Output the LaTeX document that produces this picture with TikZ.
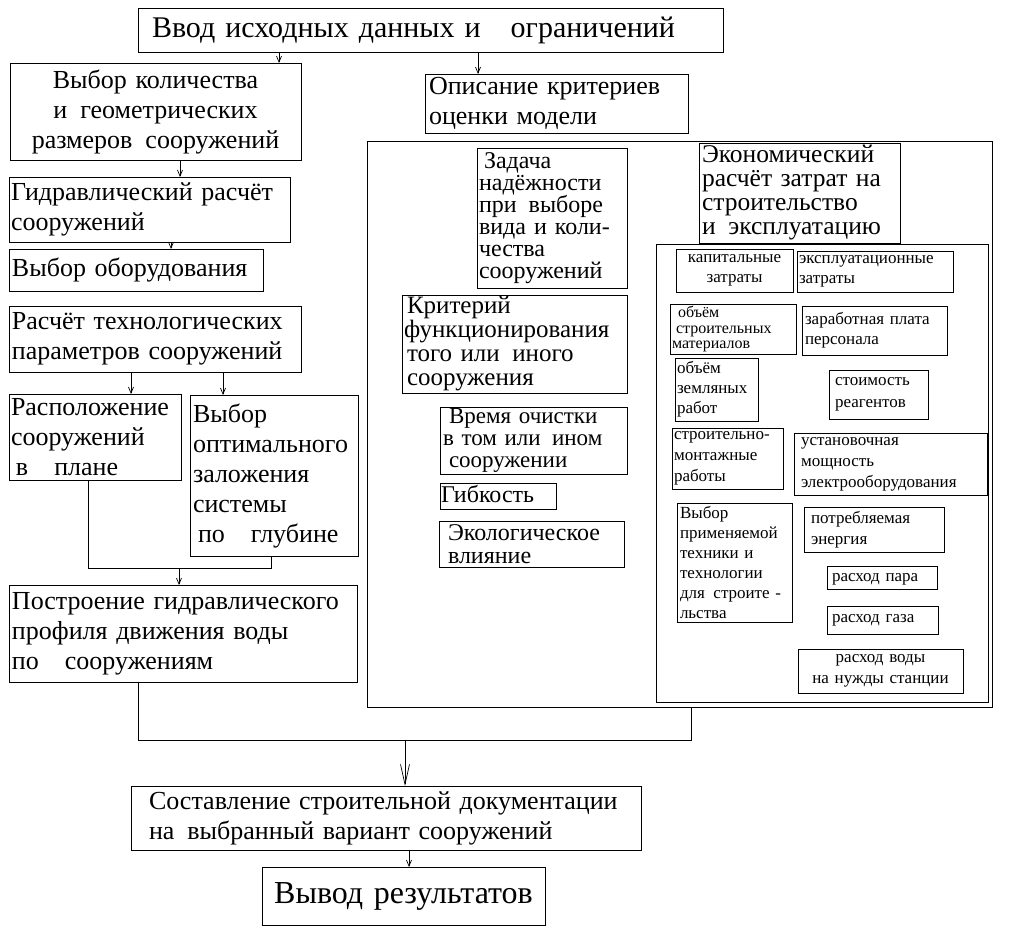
\documentclass[tikz,border=0pt]{standalone}
\usepackage{fontspec}
\setmainfont{Liberation Serif}
\usetikzlibrary{arrows.meta}
\tikzset{
  bx/.style={draw, line width=0.9pt, anchor=north west, inner ysep=0pt, outer sep=0pt, align=left},
  ln/.style={line width=0.8pt},
  arr/.style={line width=0.8pt, -{Straight Barb[length=6pt,width=5pt,line width=0.7pt]}},
  arrbig/.style={line width=0.8pt, -{Straight Barb[length=20pt,width=9pt,line width=0.7pt]}},
  fT/.style={font=\fontsize{30}{34}\selectfont},
  fL/.style={font=\fontsize{26}{30}\selectfont},
  fS/.style={font=\fontsize{17}{20}\selectfont}
}
\newcommand\mybox[8]{%
  \pgfmathsetmacro\myBW{#4-#2}%
  \pgfmathsetmacro\myBH{#5-#3}%
  \pgfmathsetmacro\myTW{#4-#2-2*#6}%
  \node[bx, minimum width=\myBW pt, minimum height=\myBH pt, inner xsep=#6pt, text width=\myTW pt, #7] (#1) at (#2,#3) {#8};}
\begin{document}
\begin{tikzpicture}[x=1pt, y=-1pt]
\useasboundingbox (0,0) rectangle (1021,945);
% left column
\mybox{top}{138}{8}{723}{52}{14}{fT}{Ввод исходных данных и\enspace\enspace ограничений}
\mybox{vybor}{10}{63}{301}{160}{4}{fL, align=center}{Выбор количества\\ и\enspace геометрических\\ размеров\enspace сооружений}
\mybox{gidr}{9}{177}{290}{242}{2}{fL}{Гидравлический расчёт\\сооружений}
\mybox{obor}{9}{249}{263}{291}{3}{fL}{Выбор оборудования}
\mybox{rasch}{9}{306}{301}{372}{3}{fL}{Расчёт технологических\\параметров сооружений}
\mybox{rasp}{9}{394}{181}{480}{2}{fL}{Расположение\\сооружений\\\hspace*{5pt}в\enspace\enspace плане}
\mybox{opt}{190}{395}{358}{556}{3}{fL}{Выбор\\оптимального\\заложения\\системы\\\hspace*{5pt}по\enspace\enspace глубине}
\mybox{postr}{9}{585}{357}{682}{3}{fL}{Построение гидравлического\\профиля движения воды\\по\enspace\enspace сооружениям}
\mybox{sost}{131}{786}{641}{850}{14}{fL}{\hspace*{4pt}Составление строительной документации\\\hspace*{4pt}на\enspace выбранный вариант сооружений}
\mybox{vyvod}{262}{867}{545}{925}{9}{font=\fontsize{32}{36}\selectfont, align=center}{Вывод результатов}
% right part
\mybox{opis}{425}{74}{688}{133}{4}{fL}{Описание критериев\\оценки модели}
\mybox{big}{367}{141}{992}{707}{0}{}{}
\mybox{zad}{477}{148}{627}{288}{2}{font=\fontsize{24}{22}\selectfont}{\hspace*{5pt}Задача\\надёжности\\при\enspace выборе\\вида и коли-\\чества\\сооружений}
\mybox{krit}{402}{295}{627}{393}{2}{font=\fontsize{25}{24}\selectfont}{\hspace*{3pt}Критерий\\функционирования\\\hspace*{3pt}того или\enspace иного\\\hspace*{3pt}сооружения}
\mybox{vrem}{440}{407}{627}{474}{3}{font=\fontsize{23}{22}\selectfont}{\hspace*{6pt}Время очистки\\в том или\enspace ином\\\hspace*{6pt}сооружении}
\mybox{gib}{440}{483}{556}{509}{1}{font=\fontsize{24}{26}\selectfont, text height=17pt, text depth=5pt}{Гибкость}
\mybox{eko}{439}{521}{624}{567}{3}{font=\fontsize{24}{23}\selectfont}{\hspace*{6pt}Экологическое\\\hspace*{6pt}влияние}
\mybox{econ}{699}{143}{900}{243}{3}{font=\fontsize{25.5}{24}\selectfont}{Экономический\\расчёт затрат на\\строительство\\и\enspace эксплуатацию}
\mybox{inner}{656}{244}{988}{702}{0}{}{}
% small boxes
\mybox{kap}{676}{249}{793}{292}{2}{fS, align=center}{капитальные\\затраты}
\mybox{ekspl}{797}{251}{953}{292}{2}{fS}{эксплуатационные\\затраты}
\mybox{obm}{670}{304}{796}{354}{2}{font=\fontsize{16}{15.5}\selectfont}{\hspace*{6pt}объём\\\hspace*{4pt}строительных\\материалов}
\mybox{zarab}{802}{306}{947}{355}{3}{fS}{заработная плата\\персонала}
\mybox{zeml}{675}{358}{758}{421}{2}{fS}{объём\\земляных\\работ}
\mybox{stoim}{829}{370}{928}{419}{3}{font=\fontsize{17}{22}\selectfont}{\hspace*{3pt}стоимость\\\hspace*{3pt}реагентов}
\mybox{strm}{672}{428}{783}{489}{2}{font=\fontsize{17}{21}\selectfont}{строительно-\\монтажные\\работы}
\mybox{ustan}{794}{433}{987}{495}{7}{font=\fontsize{17}{21}\selectfont}{установочная\\мощность\\электрооборудования}
\mybox{tekh}{677}{503}{792}{622}{3}{font=\fontsize{17}{20}\selectfont}{Выбор\\применяемой\\техники и\\технологии\\для\enspace строите -\\льства}
\mybox{potr}{804}{507}{944}{552}{7}{font=\fontsize{17}{21}\selectfont}{потребляемая\\энергия}
\mybox{par}{827}{566}{937}{589}{5}{fS, text height=12pt, text depth=4pt}{расход пара}
\mybox{gaz}{827}{606}{938}{634}{5}{fS}{расход газа}
\mybox{voda}{798}{649}{963}{693}{2}{font=\fontsize{17}{21}\selectfont, align=center}{расход воды\\на нужды станции}
% connectors
\coordinate (c1) at (279,0);
\coordinate (c2) at (478,0);
\coordinate (c3) at (180,0);
\coordinate (c4) at (171,0);
\coordinate (c5) at (131,0);
\coordinate (c6) at (223,0);
\coordinate (c7) at (409,0);
\draw[arr] (c1 |- top.south) -- (c1 |- vybor.north);
\draw[arr] (c2 |- top.south) -- (c2 |- opis.north);
\draw[arr] (c3 |- vybor.south) -- (c3 |- gidr.north);
\draw[arr] (c4 |- gidr.south) -- (c4 |- obor.north);
\draw[arr] (c5 |- rasch.south) -- (c5 |- rasp.north);
\draw[arr] (c6 |- rasch.south) -- (c6 |- opt.north);
\coordinate (m1) at (88,568);
\coordinate (m2) at (271,568);
\coordinate (m3) at (179,568);
\draw[ln] (m1 |- rasp.south) -- (m1) -- (m2) -- (m2 |- opt.south);
\draw[arr] (m3) -- (m3 |- postr.north);
\coordinate (n1) at (138,740);
\coordinate (n2) at (691,740);
\coordinate (n3) at (405,740);
\draw[ln] (n1 |- postr.south) -- (n1) -- (n2) -- (n2 |- big.south);
\draw[arrbig] (n3) -- (n3 |- sost.north);
\draw[arr] (c7 |- sost.south) -- (c7 |- vyvod.north);
\end{tikzpicture}
\end{document}
